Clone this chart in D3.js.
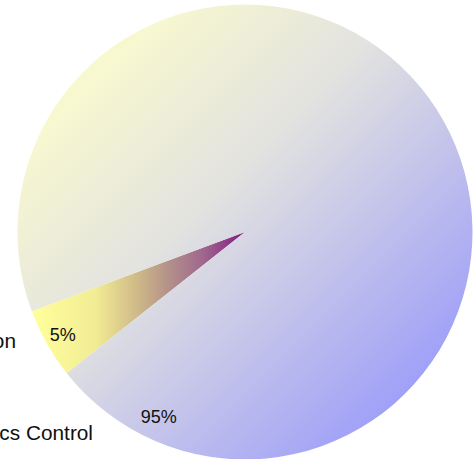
<!DOCTYPE html>
<html>
<head>
<meta charset="utf-8">
<script src="https://cdn.jsdelivr.net/npm/d3@7"></script>
<style>
  html, body { margin: 0; padding: 0; background: #fff; overflow: hidden; }
  text { font-family: "Liberation Sans", Arial, sans-serif; fill: #111; }
</style>
</head>
<body>
<svg id="chart" width="475" height="459"></svg>
<script>
// Share of each group
const categories = ["Intervention", "Diagnostics Control"];
const values = [5, 95];
const percentLabels = ["5%", "95%"];

const width = 475, height = 459;
const cx = 245, cy = 232, radius = 227.5;
const deg = Math.PI / 180;

const svg = d3.select("#chart");
const defs = svg.append("defs");

// Small slice: yellow at the rim blending into purple at the hub
const gSmall = defs.append("linearGradient")
  .attr("id", "gradSmall")
  .attr("x1", 0).attr("y1", 0).attr("x2", 1).attr("y2", 0);
[
  [0.00, "#ffff9c"],
  [0.30, "#f2ec94"],
  [0.50, "#ceb888"],
  [0.66, "#b08c8a"],
  [0.80, "#a0688e"],
  [1.00, "#801c80"]
].forEach(([o, c]) => gSmall.append("stop").attr("offset", o).attr("stop-color", c));

// Large slice: diagonal wash from pale yellow through grey to periwinkle
const d = radius * Math.SQRT1_2;
const gLarge = defs.append("linearGradient")
  .attr("id", "gradLarge")
  .attr("gradientUnits", "userSpaceOnUse")
  .attr("x1", -d).attr("y1", -d).attr("x2", d).attr("y2", d);
[
  [0.00, "#f9f9cf"],
  [0.40, "#e2e2e0"],
  [1.00, "#a0a0f8"]
].forEach(([o, c]) => gLarge.append("stop").attr("offset", o).attr("stop-color", c));

const fills = ["url(#gradSmall)", "url(#gradLarge)"];

const start = 231.6 * deg;
const pie = d3.pie().sort(null).startAngle(start).endAngle(start + 2 * Math.PI);
const arcs = pie(values);

const arc = d3.arc().innerRadius(0).outerRadius(radius);

const g = svg.append("g").attr("transform", `translate(${cx},${cy})`);

g.selectAll("path.slice")
  .data(arcs)
  .join("path")
  .attr("class", "slice")
  .attr("d", arc)
  .attr("fill", (d, i) => fills[i]);

// Percentage labels: the small one at its slice's middle, the large one
// just inside the trailing edge of its slice
const labelPos = [
  d => ({ a: (d.startAngle + d.endAngle) / 2, r: radius * 0.92 }),
  d => ({ a: d.endAngle - 26.6 * deg, r: radius * 0.897 })
];
g.selectAll("text.pct")
  .data(arcs)
  .join("text")
  .attr("class", "pct")
  .attr("text-anchor", "middle")
  .attr("font-size", 18)
  .each(function (d, i) {
    const p = labelPos[i](d);
    d3.select(this)
      .attr("x", p.r * Math.sin(p.a))
      .attr("y", -p.r * Math.cos(p.a) + 6);
  })
  .text((d, i) => percentLabels[i]);

// Category names on the left, running off the edge
const nameY = d3.scalePoint().domain(categories).range([348, 440]);
svg.selectAll("text.name")
  .data(categories)
  .join("text")
  .attr("class", "name")
  .attr("text-anchor", "end")
  .attr("font-size", 20.8)
  .attr("x", (d, i) => i === 0 ? 16 : 93)
  .attr("y", d => nameY(d))
  .text(d => d);
</script>
</body>
</html>
